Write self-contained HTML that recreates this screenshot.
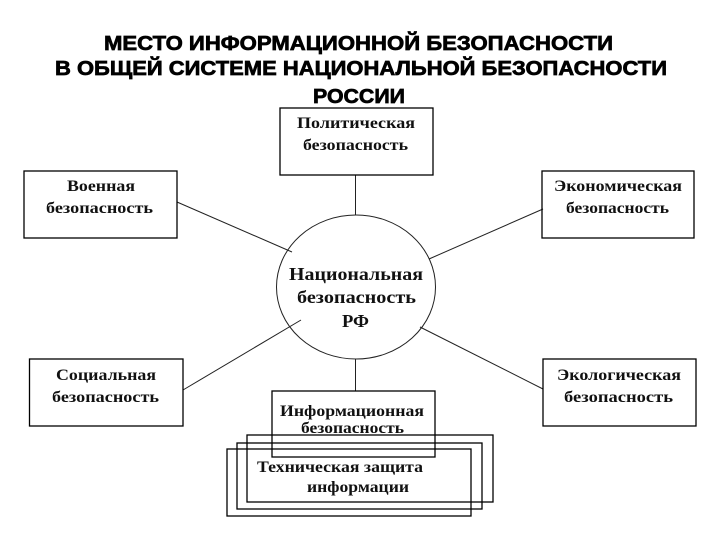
<!DOCTYPE html>
<html><head><meta charset="utf-8"><style>
html,body{margin:0;padding:0;background:#fff;}
svg{display:block;}
.t{font-family:"Liberation Sans","DejaVu Sans",sans-serif;font-weight:bold;font-size:20px;fill:#000;stroke:#000;stroke-width:0.7px;}
.b{font-family:"Liberation Serif","DejaVu Serif",serif;font-weight:bold;font-size:16px;fill:#111;}
.c{font-family:"Liberation Serif","DejaVu Serif",serif;font-weight:bold;font-size:18px;fill:#111;}
</style></head><body>
<svg width="720" height="540" viewBox="0 0 720 540" xmlns="http://www.w3.org/2000/svg">
<rect width="720" height="540" fill="#fff"/>
<text class="t" x="104" y="50" textLength="509" lengthAdjust="spacingAndGlyphs">МЕСТО ИНФОРМАЦИОННОЙ БЕЗОПАСНОСТИ</text>
<text class="t" x="55" y="75" textLength="612" lengthAdjust="spacingAndGlyphs">В ОБЩЕЙ СИСТЕМЕ НАЦИОНАЛЬНОЙ БЕЗОПАСНОСТИ</text>
<text class="t" x="313" y="103" textLength="92" lengthAdjust="spacingAndGlyphs">РОССИИ</text>

<g fill="none" stroke="#222" stroke-width="1">
<line x1="355.5" y1="175" x2="355.5" y2="215"/>
<line x1="355.5" y1="359" x2="355.5" y2="391"/>
<line x1="177" y1="202" x2="292" y2="252"/>
<line x1="543" y1="209" x2="429" y2="259"/>
<line x1="183" y1="390" x2="301" y2="320"/>
<line x1="543" y1="389" x2="420" y2="327"/>
<ellipse cx="356" cy="287" rx="79.5" ry="72"/>
</g>
<g fill="none" stroke="#000" stroke-width="1.3">
<rect x="280" y="108" width="153" height="67"/>
<rect x="24" y="171" width="153" height="67"/>
<rect x="542" y="171" width="152" height="67"/>
<rect x="29.5" y="359" width="153.5" height="67"/>
<rect x="543" y="359" width="153" height="67"/>
<rect x="272" y="391" width="163" height="66"/>
<rect x="247" y="435" width="246" height="67"/>
<rect x="237" y="443" width="245" height="66"/>
<rect x="227" y="449" width="244" height="67"/>
</g>

<text class="b" x="297" y="128" textLength="118" lengthAdjust="spacingAndGlyphs">Политическая</text>
<text class="b" x="303" y="150" textLength="105" lengthAdjust="spacingAndGlyphs">безопасность</text>

<text class="b" x="67" y="191" textLength="68" lengthAdjust="spacingAndGlyphs">Военная</text>
<text class="b" x="46" y="213" textLength="107" lengthAdjust="spacingAndGlyphs">безопасность</text>

<text class="b" x="554" y="191" textLength="128" lengthAdjust="spacingAndGlyphs">Экономическая</text>
<text class="b" x="566" y="213" textLength="103" lengthAdjust="spacingAndGlyphs">безопасность</text>

<text class="c" x="289" y="280" textLength="134" lengthAdjust="spacingAndGlyphs">Национальная</text>
<text class="c" x="297" y="303" textLength="119" lengthAdjust="spacingAndGlyphs">безопасность</text>
<text class="c" x="342" y="327" textLength="27" lengthAdjust="spacingAndGlyphs">РФ</text>

<text class="b" x="56" y="380" textLength="100" lengthAdjust="spacingAndGlyphs">Социальная</text>
<text class="b" x="52" y="402" textLength="107" lengthAdjust="spacingAndGlyphs">безопасность</text>

<text class="b" x="557" y="380" textLength="124" lengthAdjust="spacingAndGlyphs">Экологическая</text>
<text class="b" x="564" y="402" textLength="109" lengthAdjust="spacingAndGlyphs">безопасность</text>

<text class="b" x="280" y="416" textLength="144" lengthAdjust="spacingAndGlyphs">Информационная</text>
<text class="b" x="301" y="433" textLength="103" lengthAdjust="spacingAndGlyphs">безопасность</text>

<text class="b" x="257" y="472" textLength="166" lengthAdjust="spacingAndGlyphs">Техническая защита</text>
<text class="b" x="307" y="492" textLength="102" lengthAdjust="spacingAndGlyphs">информации</text>
</svg>
</body></html>
